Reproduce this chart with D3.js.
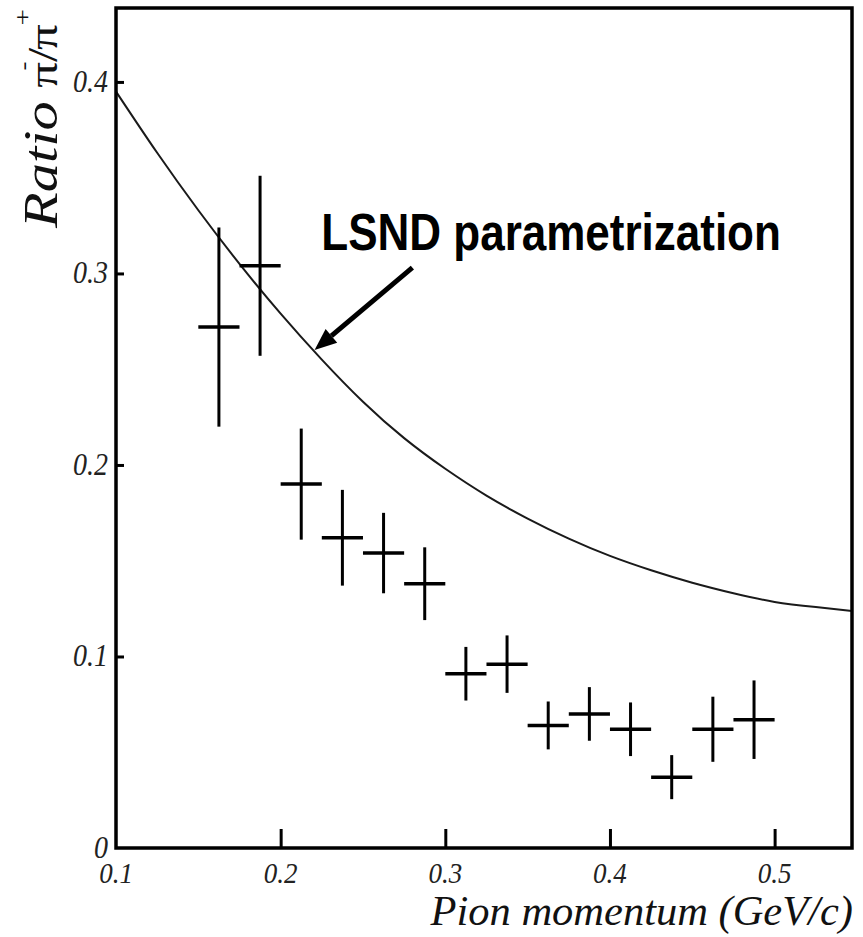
<!DOCTYPE html>
<html>
<head>
<meta charset="utf-8">
<script src="https://cdn.jsdelivr.net/npm/d3@7"></script>
<style>
  html, body { margin: 0; padding: 0; background: #fff; }
  svg { display: block; }
</style>
</head>
<body>
<svg id="chart" width="863" height="937"></svg>
<script>
// Measured pi-/pi+ ratio in momentum bins (bin centre, ratio, symmetric error)
const binCentres = [0.1625, 0.1875, 0.2125, 0.2375, 0.2625, 0.2875, 0.3125, 0.3375, 0.3625, 0.3875, 0.4125, 0.4375, 0.4625, 0.4875];
const ratioValues = [0.272, 0.304, 0.190, 0.162, 0.154, 0.138, 0.091, 0.096, 0.064, 0.070, 0.062, 0.037, 0.062, 0.067];
const ratioErrors = [0.052, 0.047, 0.029, 0.025, 0.021, 0.019, 0.014, 0.015, 0.0125, 0.014, 0.014, 0.0115, 0.017, 0.0205];
const binHalfWidth = 0.0125;

// LSND parametrization curve, sampled
const lsndMomentum = [0.100, 0.125, 0.150, 0.175, 0.200, 0.225, 0.250, 0.275, 0.300, 0.325, 0.350, 0.375, 0.400, 0.425, 0.450, 0.475, 0.500, 0.525, 0.547];
const lsndRatio    = [0.395, 0.363, 0.333, 0.305, 0.279, 0.255, 0.233, 0.214, 0.198, 0.184, 0.172, 0.1615, 0.1525, 0.145, 0.1385, 0.133, 0.1285, 0.1258, 0.1238];

// Axis ticks
const xTicks = [0.1, 0.2, 0.3, 0.4, 0.5];
const xTickLabels = ["0.1", "0.2", "0.3", "0.4", "0.5"];
const yTicks = [0, 0.1, 0.2, 0.3, 0.4];
const yTickLabels = ["0", "0.1", "0.2", "0.3", "0.4"];

// Annotation: label and arrow pointing at the curve (data coordinates)
const annotationText = "LSND parametrization";
const annotationAnchor = [0.2247, 0.312];
const arrowFrom = [0.280, 0.303];
const arrowTo = [0.2206, 0.260];

const svg = d3.select("#chart");
const plotLeft = 116, plotRight = 852, plotTop = 8, plotBottom = 848;

const x = d3.scaleLinear().domain([0.1, 0.547]).range([plotLeft, plotRight]);
const y = d3.scaleLinear().domain([0, 0.4386]).range([plotBottom, plotTop]);

const serif = "'Liberation Serif', 'DejaVu Serif', serif";

// Curve
const line = d3.line().x(d => x(d[0])).y(d => y(d[1])).curve(d3.curveNatural);
svg.append("path")
  .datum(d3.zip(lsndMomentum, lsndRatio))
  .attr("d", line)
  .attr("fill", "none")
  .attr("stroke", "#1a1a1a")
  .attr("stroke-width", 2);

// Data points with error bars
const pts = svg.append("g").attr("stroke", "#000");
binCentres.forEach((c, i) => {
  const v = ratioValues[i], e = ratioErrors[i];
  pts.append("line")
    .attr("x1", x(c)).attr("x2", x(c))
    .attr("y1", y(v - e)).attr("y2", y(v + e))
    .attr("stroke-width", 3);
  pts.append("line")
    .attr("x1", x(c - binHalfWidth)).attr("x2", x(c + binHalfWidth))
    .attr("y1", y(v)).attr("y2", y(v))
    .attr("stroke-width", 3.5);
});

// Frame
svg.append("rect")
  .attr("x", plotLeft).attr("y", plotTop)
  .attr("width", plotRight - plotLeft).attr("height", plotBottom - plotTop)
  .attr("fill", "none").attr("stroke", "#000").attr("stroke-width", 3.5);

// X ticks (inward) and labels
const xAxis = d3.axisTop(x).tickValues(xTicks.slice(1)).tickSize(19).tickFormat("");
const gx = svg.append("g").attr("transform", `translate(0,${plotBottom})`).call(xAxis);
gx.select(".domain").remove();
gx.selectAll(".tick line").attr("stroke", "#000").attr("stroke-width", 3);

svg.append("g").selectAll("text")
  .data(xTicks)
  .join("text")
  .attr("transform", d => `translate(${x(d)},883) scale(1,1.12)`)
  .attr("text-anchor", "middle")
  .attr("font-family", serif)
  .attr("font-style", "italic")
  .attr("font-size", 27)
  .attr("fill", "#222")
  .text((d, i) => xTickLabels[i]);

// Y ticks (inward) and labels
const yAxis = d3.axisRight(y).tickValues(yTicks.slice(1)).tickSize(8).tickFormat("");
const gy = svg.append("g").attr("transform", `translate(${plotLeft},0)`).call(yAxis);
gy.select(".domain").remove();
gy.selectAll(".tick line").attr("stroke", "#000").attr("stroke-width", 3);

svg.append("g").selectAll("text")
  .data(yTicks)
  .join("text")
  .attr("transform", d => `translate(108,${y(d) + 10}) scale(1,1.12)`)
  .attr("text-anchor", "end")
  .attr("font-family", serif)
  .attr("font-style", "italic")
  .attr("font-size", 28)
  .attr("fill", "#222")
  .text((d, i) => yTickLabels[i]);

// Axis titles
svg.append("text")
  .attr("x", 853).attr("y", 925)
  .attr("text-anchor", "end")
  .attr("font-family", serif)
  .attr("font-style", "italic")
  .attr("font-size", 42.5)
  .attr("fill", "#111")
  .text("Pion momentum (GeV/c)");

const yTitle = svg.append("text")
  .attr("transform", "translate(57,228) rotate(-90) scale(1.22,1)")
  .attr("font-family", serif)
  .attr("fill", "#111");
yTitle.append("tspan").attr("x", 0).attr("y", 0)
  .attr("font-style", "italic").attr("font-size", 48).text("Ratio");
yTitle.append("tspan").attr("x", 115).attr("y", 0).attr("font-size", 42).text("π");
yTitle.append("tspan").attr("x", 129).attr("y", -27).attr("font-size", 22).text("-");
yTitle.append("tspan").attr("x", 136).attr("y", 0).attr("font-size", 42).text("/");
yTitle.append("tspan").attr("x", 146).attr("y", 0).attr("font-size", 42).text("π");
yTitle.append("tspan").attr("x", 166).attr("y", -27).attr("font-size", 24).text("+");

// Annotation label and arrow
svg.append("text")
  .attr("transform", `translate(${x(annotationAnchor[0])},${y(annotationAnchor[1])}) scale(1,1.16)`)
  .attr("font-family", "'Liberation Sans', Arial, sans-serif")
  .attr("font-weight", "bold")
  .attr("font-size", 44)
  .attr("fill", "#000")
  .text(annotationText);

const ax0 = x(arrowFrom[0]), ay0 = y(arrowFrom[1]);
const ax1 = x(arrowTo[0]), ay1 = y(arrowTo[1]);
const ang = Math.atan2(ay1 - ay0, ax1 - ax0);
const headLen = 22, headHalf = 9;
const bx = ax1 - headLen * Math.cos(ang), by = ay1 - headLen * Math.sin(ang);
svg.append("line")
  .attr("x1", ax0).attr("y1", ay0).attr("x2", bx).attr("y2", by)
  .attr("stroke", "#000").attr("stroke-width", 5);
svg.append("path")
  .attr("d", d3.line()([
    [ax1, ay1],
    [bx + headHalf * Math.sin(ang), by - headHalf * Math.cos(ang)],
    [bx - headHalf * Math.sin(ang), by + headHalf * Math.cos(ang)]
  ]) + "Z")
  .attr("fill", "#000");
</script>
</body>
</html>
